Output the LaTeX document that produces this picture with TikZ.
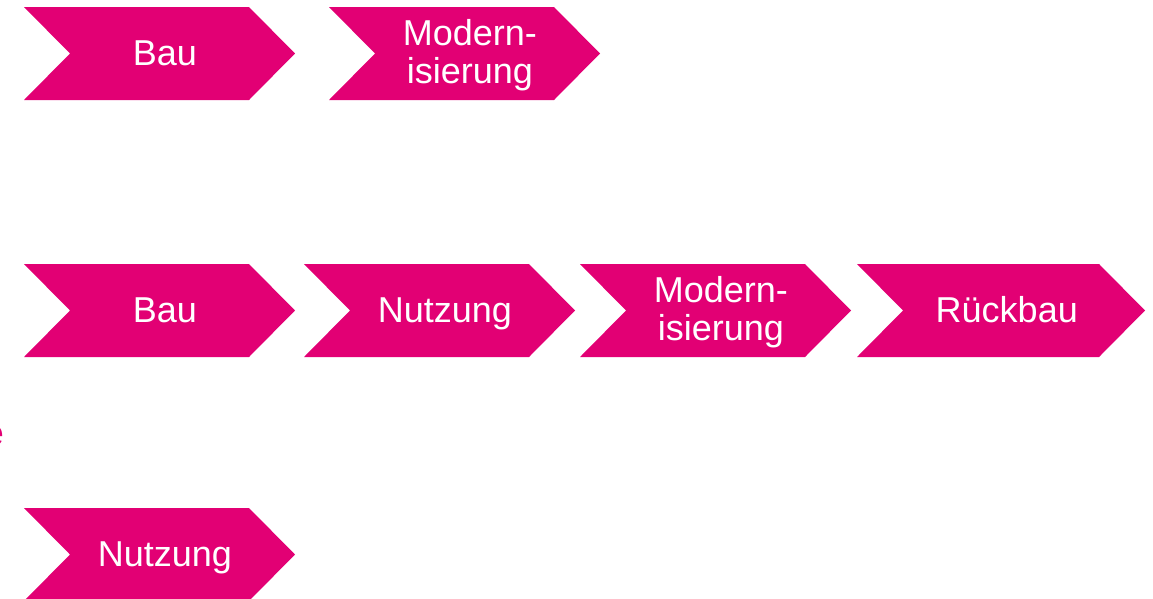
\documentclass[tikz,border=0pt]{standalone}
\usepackage{fontspec}
\setmainfont{Liberation Sans}
\definecolor{tmag}{HTML}{E20074}
\tikzset{
  chevfill/.style={fill=tmag},
  chevlabel/.style={text=white, align=center, inner sep=0pt, anchor=base,
    font=\fontsize{36}{38}\selectfont},
}
% #1 node name, #2 left x, #3 top y, #4 length from left edge to tip,
% #5 offset of the last baseline below the top edge, #6 label
\newcommand\chevron[6]{%
  \fill[chevfill] (#2,#3) -- ({#2+#4-46},#3) -- ({#2+#4},{#3+46.5})
    -- ({#2+#4-46},{#3+93}) -- (#2,{#3+93}) -- ({#2+46},{#3+46.5}) -- cycle;
  \node[chevlabel] (#1) at ({#2+0.52*#4},{#3+#5}) {#6};
}
\begin{document}
\begin{tikzpicture}[x=1pt,y=-1pt]
\useasboundingbox (0,0) rectangle (1153,598);
% upper pair
\chevron{bauA}{24}{7}{271}{58.5}{Bau}
\chevron{modA}{329}{7}{271}{76.5}{Modern-\\isierung}
% full sequence
\chevron{bauB}{24}{264}{271}{58.5}{Bau}
\chevron{nutzB}{304}{264}{271}{58.5}{Nutzung}
\chevron{modB}{580}{264}{271}{76.5}{Modern-\\isierung}
\chevron{rueckB}{857}{264}{288}{58.5}{Rückbau}
% single step at the bottom
\chevron{nutzC}{24}{508}{271}{58.5}{Nutzung}
% letter cut off at the left edge
\node[text=tmag, anchor=base east, inner sep=0pt,
  font=\fontsize{36}{38}\selectfont] (edgeE) at (4,445) {e};
\end{tikzpicture}
\end{document}
